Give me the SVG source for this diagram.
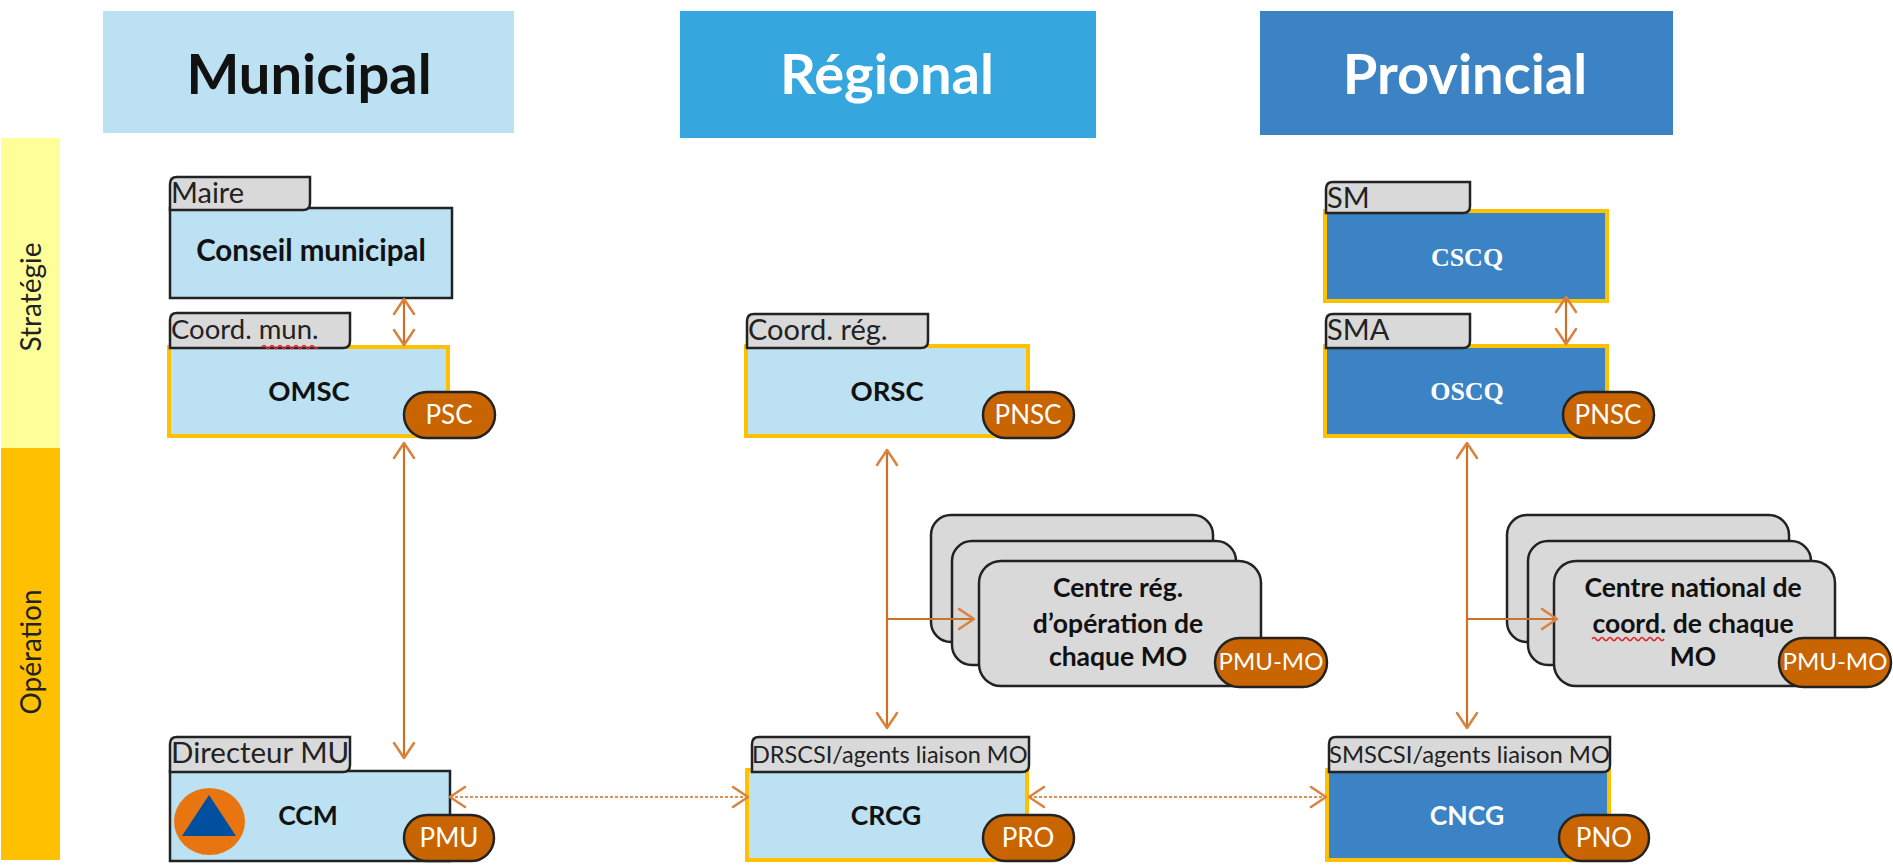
<svg xmlns="http://www.w3.org/2000/svg" width="1893" height="865" viewBox="0 0 1893 865">
<style>
text{font-family:Lato,"Liberation Sans",sans-serif}
.lb{fill:#BCE1F2}.db{fill:#3B83C4}
.ybox{stroke:#FFC000;stroke-width:4}
.kbox{stroke:#222;stroke-width:2.5}
.tab{fill:#D9D9D9;stroke:#222;stroke-width:2.5}
.card{fill:#D9D9D9;stroke:#222;stroke-width:2.5}
.pill{fill:#C96500;stroke:#222;stroke-width:2.5}
.tt{font-size:29px;fill:#222}
.tts{font-size:23.500px;fill:#222}
.pt{font-size:26px;fill:#fff;text-anchor:middle}
.pm{font-size:24px;fill:#fff;text-anchor:middle}
.bt{font-size:27.500px;font-weight:700;fill:#111;text-anchor:middle}
.wt{font-size:26.500px;font-weight:700;fill:#fff;text-anchor:middle}
.st{font-family:"Liberation Serif",serif;font-size:26px;font-weight:700;fill:#fff;text-anchor:middle}
.ct{font-size:26.500px;font-weight:700;fill:#111;text-anchor:middle}
.hd{font-size:56px;font-weight:700;text-anchor:middle}
.side{font-size:28px;fill:#222;text-anchor:middle}
.sq{fill:none;stroke:#E5222A;stroke-width:1.5}
.c{fill:none;stroke:#CC7226;stroke-width:2.2;marker-start:url(#ah);marker-end:url(#ah)}
.b{fill:none;stroke:#CC7226;stroke-width:2.2;marker-end:url(#ah)}
.d{fill:none;stroke:#DB8F55;stroke-width:2.2;stroke-dasharray:3 2;marker-start:url(#ah);marker-end:url(#ah)}
</style>
<defs>
<marker id="ah" markerUnits="userSpaceOnUse" markerWidth="24" markerHeight="26" viewBox="-18 -13 24 26" refX="0" refY="0" orient="auto-start-reverse">
<path d="M-15 -10L0 0L-15 10" fill="none" stroke="#D9833F" stroke-width="2.500" stroke-linejoin="round" stroke-linecap="round"/>
</marker>
</defs>

<g id="head-municipal"><rect x="103" y="11" width="411" height="122" fill="#BCE1F2"/><text class="hd" x="309" y="94" fill="#111">Municipal</text></g>
<g id="head-regional"><rect x="680" y="11" width="416" height="127" fill="#36A6DF"/><text class="hd" x="887" y="94" fill="#fff">Régional</text></g>
<g id="head-provincial"><rect x="1260" y="11" width="413" height="124" fill="#3B83C4"/><text class="hd" x="1465" y="94" fill="#fff">Provincial</text></g>

<g id="band-strategie"><rect x="1" y="138" width="59" height="310" fill="#FFFF99"/><text class="side" transform="translate(41 297) rotate(-90)">Stratégie</text></g>
<g id="band-operation"><rect x="1" y="448" width="59" height="412" fill="#FFC000"/><text class="side" transform="translate(41 652) rotate(-90)">Opération</text></g>

<g id="conseil">
<rect class="lb kbox" x="170" y="208" width="282" height="90"/>
<path class="tab" d="M177 177H310V203Q310 210 303 210H170V184Q170 177 177 177Z"/>
<text class="tt" x="171" y="203">Maire</text>
<text class="bt" x="311" y="261" style="font-size:29.500px">Conseil municipal</text>
</g>
<g id="omsc">
<rect class="lb ybox" x="169" y="347" width="279" height="89"/>
<path class="tab" d="M177 313H350V341Q350 348 343 348H170V320Q170 313 177 313Z"/>
<text class="tt" x="171" y="339" style="font-size:27.500px">Coord. mun.</text>
<path class="sq" d="M262 347q2 -3 4 0t4 0t4 0t4 0t4 0t4 0t4 0t4 0t4 0t4 0t4 0t4 0t4 0t4 0"/>
<text class="bt" x="309" y="401">OMSC</text>
<rect class="pill" x="404" y="392" width="91" height="46" rx="23"/>
<text class="pt" x="449" y="424">PSC</text>
</g>
<g id="ccm">
<rect class="lb kbox" x="170" y="771" width="280" height="90"/>
<path class="tab" d="M177 737H350V765Q350 772 343 772H170V744Q170 737 177 737Z"/>
<text class="tt" x="171" y="763" style="font-size:29.500px">Directeur MU</text>
<ellipse cx="209.500" cy="821.500" rx="35.500" ry="33.500" fill="#E97510"/>
<path d="M209 795L236 836H182Z" fill="#00509F"/>
<text class="bt" x="308" y="825" style="font-size:26.500px">CCM</text>
<rect class="pill" x="404" y="815" width="90" height="46" rx="23"/>
<text class="pt" x="449" y="847">PMU</text>
</g>

<g id="orsc">
<rect class="lb ybox" x="746" y="346" width="282" height="90"/>
<path class="tab" d="M754 314H928V341Q928 348 921 348H747V321Q747 314 754 314Z"/>
<text class="tt" x="748" y="340">Coord. rég.</text>
<text class="bt" x="887" y="401">ORSC</text>
<rect class="pill" x="983" y="392" width="91" height="46" rx="23"/>
<text class="pt" x="1028" y="424">PNSC</text>
</g>
<g id="centre-reg">
<rect class="card" x="931" y="515" width="282" height="127" rx="20"/>
<rect class="card" x="952" y="541" width="284" height="124" rx="20"/>
<rect class="card" x="979" y="561" width="282" height="125" rx="22"/>
<text class="ct" x="1118" y="597">Centre rég.</text>
<text class="ct" x="1118" y="633">d’opération de</text>
<text class="ct" x="1118" y="666">chaque MO</text>
<rect class="pill" x="1215" y="638" width="112" height="49" rx="24.500"/>
<text class="pm" x="1271" y="670">PMU-MO</text>
</g>
<g id="crcg">
<rect class="lb ybox" x="747" y="770" width="280" height="90"/>
<path class="tab" d="M759 737H1029V765Q1029 772 1022 772H752V744Q752 737 759 737Z"/>
<text class="tts" x="752" y="763">DRSCSI/agents liaison MO</text>
<text class="bt" x="886" y="825" style="font-size:26.500px">CRCG</text>
<rect class="pill" x="983" y="815" width="91" height="46" rx="23"/>
<text class="pt" x="1028" y="847">PRO</text>
</g>

<g id="cscq">
<rect class="db ybox" x="1325" y="211" width="282" height="90"/>
<path class="tab" d="M1333 182H1470V206Q1470 213 1463 213H1326V189Q1326 182 1333 182Z"/>
<text class="tt" x="1327" y="208">SM</text>
<text class="st" x="1467" y="266">CSCQ</text>
</g>
<g id="oscq">
<rect class="db ybox" x="1325" y="346" width="282" height="90"/>
<path class="tab" d="M1333 314H1470V341Q1470 348 1463 348H1326V321Q1326 314 1333 314Z"/>
<text class="tt" x="1327" y="340">SMA</text>
<text class="st" x="1467" y="400">OSCQ</text>
<rect class="pill" x="1563" y="392" width="91" height="46" rx="23"/>
<text class="pt" x="1608" y="424">PNSC</text>
</g>
<g id="centre-nat">
<rect class="card" x="1507" y="515" width="282" height="127" rx="20"/>
<rect class="card" x="1528" y="541" width="283" height="124" rx="20"/>
<rect class="card" x="1554" y="561" width="281" height="125" rx="22"/>
<text class="ct" x="1693" y="597">Centre national de</text>
<text class="ct" x="1693" y="633">coord. de chaque</text>
<path class="sq" d="M1592 639q2 -3 4 0t4 0t4 0t4 0t4 0t4 0t4 0t4 0t4 0t4 0t4 0t4 0t4 0t4 0t4 0t4 0t4 0t4 0"/>
<text class="ct" x="1693" y="666">MO</text>
<rect class="pill" x="1779" y="638" width="112" height="49" rx="24.500"/>
<text class="pm" x="1835" y="670">PMU-MO</text>
</g>
<g id="cncg">
<rect class="db ybox" x="1327" y="770" width="282" height="90"/>
<path class="tab" d="M1336 737H1610V765Q1610 772 1603 772H1329V744Q1329 737 1336 737Z"/>
<text class="tts" x="1329" y="763" style="font-size:23.800px">SMSCSI/agents liaison MO</text>
<text class="wt" x="1467" y="825">CNCG</text>
<rect class="pill" x="1559" y="815" width="90" height="46" rx="23"/>
<text class="pt" x="1604" y="847">PNO</text>
</g>

<g id="connectors">
<path class="c" d="M404 299V345"/>
<path class="c" d="M404 443V758"/>
<path class="c" d="M887 450V728"/>
<path class="b" d="M887 619H974"/>
<path class="c" d="M1566 297V344"/>
<path class="c" d="M1467 443V728"/>
<path class="b" d="M1467 619H1557"/>
<path class="d" d="M450 797H748"/>
<path class="d" d="M1029 797H1326"/>
</g>
</svg>
